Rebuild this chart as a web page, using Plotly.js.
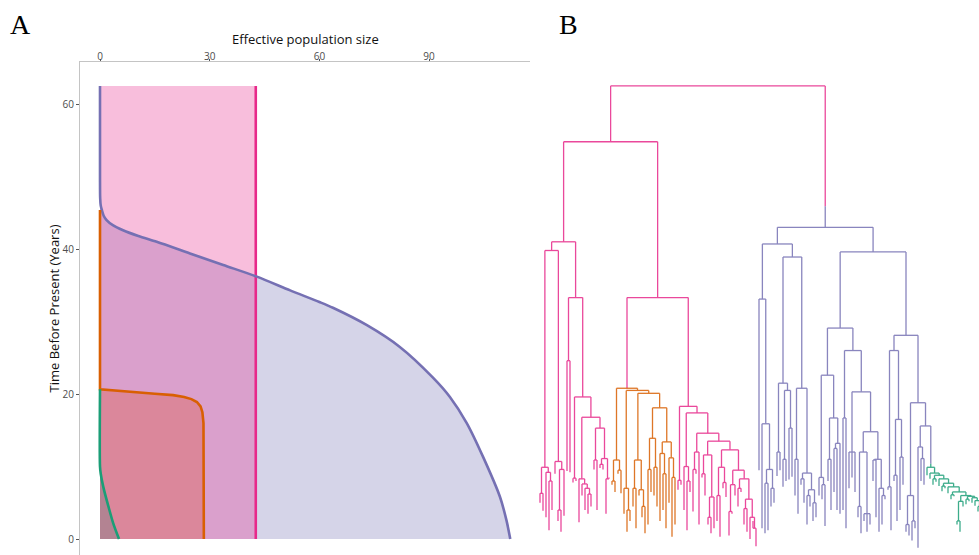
<!DOCTYPE html>
<html>
<head>
<meta charset="utf-8">
<script src="https://cdn.plot.ly/plotly-3.0.1.min.js"></script>
<style>html,body{margin:0;padding:0;background:#fff;}#chart{width:979px;height:555px;}</style>
</head>
<body>
<div id="chart"></div>
<script>
// ---------------- Panel A data: effective population size through time ----------------
const pinkTime   = [0, 62.5];
const pinkNe     = [42.6, 42.6];

const purpleTime = [0, 2.5, 5.8, 11.3, 16.0, 19.6, 22.3, 26.5, 29.5, 31.9, 32.7, 34.3, 36.2, 37.8, 39.4, 41.0, 41.8, 42.6, 43.3, 44.0, 44.6, 45.4, 46.0, 47.0, 50.0, 62.5];
const purpleNe   = [112.2, 111.2, 109.4, 104.8, 100.3, 95.7, 91.0, 82.0, 73.0, 63.7, 60.0, 52.0, 42.9, 33.7, 24.6, 15.5, 10.5, 6.3, 3.5, 1.8, 1.0, 0.5, 0.2, 0.05, 0, 0];

const orangeTime = [0, 10, 16.0, 17.5, 18.3, 18.9, 19.3, 19.6, 19.85, 20.05, 20.25, 20.45, 20.65, 45.4];
const orangeNe   = [28.4, 28.4, 28.3, 28.0, 27.5, 26.5, 25.0, 23.0, 20.0, 15.0, 10.0, 5.0, 0, 0];

const greenTime  = [0, 2.2, 4.5, 7.2, 9.0, 10.0, 20.65];
const greenNe    = [5.2, 3.6, 2.3, 0.9, 0.2, 0, 0];

const xTicks = [0, 30, 60, 90];
const yTicks = [0, 20, 40, 60];

// ---------------- Panel B data: time tree (leaf = tip time, "(...):t" = node time, "#X" = population) ----------------
const popNames   = ['K', 'P', 'O', 'G'];
const popColors  = ['#e7298a', '#7570b3', '#d95f02', '#1b9e77'];
const popSwitch  = [62.5, 45.9, 20.8, 10.4];   // time where a lineage takes the population colour

const L1a1   = "((5.0,3.9):6.3,(3.0,(1.2,4.0):8.0):9.2):9.9";
const L1a2   = "(9.0,((2.5,1.0):4.0,3.2):9.6):10.7";
const L1b1   = "(9.4,9.2):24.6";
const L1b2a  = "(7.8,8.0):8.4";
const L1b2b1 = "(2.3,(6.0,(4.0,(3.5,4.5):6.2):7.0):7.6):8.3";
const L1b2b2 = "((9.6,4.0):10.9,((9.8,9.6):10.3,(3.5,8.5):8.3):11.1):15.3";
const L1 = "((" + L1a1 + "," + L1a2 + "):39.8,(" + L1b1 + ",(" + L1b2a + ",(" + L1b2b1 + "," + L1b2b2 + "):16.8):19.6):33.3):41.0";

const Oa  = "((7.5,6.5):8.0,(9.0,6.3):9.5):10.9";
const Ob  = "(3.5,(1.0,2.5):4.0):7.0";
const Oc  = "((4.5,1.5):7.0,(6.0,(3.0,0.8):4.5):6.8):10.9";
const Od1 = "((2.0,6.5):9.6,(6.0,4.5):9.9):13.9";
const Od2 = "((2.5,(4.0,1.5):9.0):11.8,(5.0,(0.3,2.0):8.5):11.2):13.4";
const Orange = "(" + Oa + ",(" + Ob + ",(" + Oc + ",(" + Od1 + "," + Od2 + "):18.1):20.1):20.5):20.8#O";

const R1b1   = "(6.8,7.5):8.1";
const R1b2a  = "(4.0,(1.2,6.5):8.0):10.0";
const R1b2b1 = "((3.8,9.0):9.6,2.0):12.0";
const C1     = "((8.5,6.0):9.0,((2.0,0.8):3.0,1.5):5.8):11.6";
const D1     = "((2.5,0.3):6.0,(7.0,5.8):7.8):9.9";
const D2     = "(((0.5,3.5):3.8,6.0):7.5,((4.5,6.5):7.0,((2.0,1.0):4.2,(0.0,(2.5,-1.0):1.5):3.0):5.5):8.3):9.5";
const R1 = "(" + Orange + ",(" + R1b1 + ",(" + R1b2a + ",(" + R1b2b1 + ",(" + C1 + ",(" + D1 + "," + D2 + "):12.3):13.5):14.6):17.4):18.3):33.3";

const PA1b  = "(1.5,((0.8,1.2):7.7,(4.5,5.0):7.0):9.6):15.9";
const PA2a  = "((8.7,9.5):12.0,((7.2,8.0):11.0,(8.2,8.6):15.3):20.5):21.5";
const PA2b  = "((6.0,3.5):11.0,((7.5,5.0):8.3,((2.0,4.5):6.0,(2.5,3.0):5.0):6.8):9.1):20.8";
const PA    = "((9.5," + PA1b + "):33.1,(" + PA2a + "," + PA2b + "):38.9):40.7";
const PB1a  = "((6.0,(5.5,1.8):7.5):8.5,((8.0,4.0):11.0,((6.5,4.0):12.5,3.5):13.2):16.7):22.6";
const PB1b  = "((4.0,1.5):16.7,((7.0,8.5,6.5):12.0,(((3.0,0.8):4.5,(2.5,1.0,2.0):3.5):12.0,((8.0,3.0):10.9,(1.0,(2.0,5.5):6.0):7.0):11.0):14.8):20.3):26.0";
const PB2a  = "((6.8,1.2):7.2,((8.0,2.5):8.8,(4.0,7.5):11.3):16.5):26.0";
const PB2b1 = "((1.0,0.5):2.0,(-0.2,1.5):2.5):6.0";
const PB2b2a = "(-1.2,(8.0,7.5):11.1):12.7";
const Green = "(8.8,(8.3,((7.5,7.9):8.3,(7.3,((6.6,7.0):7.3,(6.3,((5.5,5.9):6.1,(((2.0,1.0):2.5,4.5):5.2,((4.8,5.2):5.5,(5.0,(4.6,(3.8,4.2):4.5):5.3):5.7):5.9):6.0):6.5):7.2):7.7):8.3):8.8):9.1):9.9#G";
const PB    = "((" + PB1a + "," + PB1b + "):29.1,(" + PB2a + ",(" + PB2b1 + ",(" + PB2b2a + "," + Green + "):15.6):18.8):28.1):39.6";
const Purple = "(" + PA + "," + PB + "):43.0#P";

const treeString = "((" + L1 + "," + R1 + "):54.8," + Purple + "):62.5#K";

// ---------------- tree parsing & layout ----------------
function parseTree(s) {
  let i = 0;
  function num() { const j = i; while (i < s.length && /[-0-9.]/.test(s[i])) i++; return parseFloat(s.slice(j, i)); }
  function node() {
    if (s[i] === '(') {
      i++;
      const ch = [];
      while (true) {
        ch.push(node());
        if (s[i] === ',') { i++; continue; }
        if (s[i] === ')') { i++; break; }
      }
      i++; // ':'
      const t = num();
      let tag = null;
      if (s[i] === '#') { i++; tag = s[i]; i++; }
      return { ch, t, tag };
    }
    return { ch: [], t: num(), tag: null };
  }
  return node();
}
const root = parseTree(treeString);
let leafCount = 0;
function layout(n, parent) {
  n.pop = n.tag || (parent ? parent.pop : 'K');
  if (n.ch.length === 0) { n.x = leafCount++; return; }
  n.ch.forEach(c => layout(c, n));
  n.x = (n.ch[0].x + n.ch[n.ch.length - 1].x) / 2;
}
layout(root, null);

const segs = {};
popNames.forEach(p => segs[p] = { x: [], y: [] });
function addSeg(p, x0, y0, x1, y1) { segs[p].x.push(x0, x1, null); segs[p].y.push(y0, y1, null); }
function draw(n, parent) {
  if (parent) {
    if (n.pop !== parent.pop) {
      const sw = popSwitch[popNames.indexOf(n.pop)];
      addSeg(parent.pop, n.x, parent.t, n.x, sw);
      addSeg(n.pop, n.x, sw, n.x, n.t);
    } else {
      addSeg(n.pop, n.x, parent.t, n.x, n.t);
    }
  }
  if (n.ch.length) {
    addSeg(n.pop, n.ch[0].x, n.t, n.ch[n.ch.length - 1].x, n.t);
    n.ch.forEach(c => draw(c, n));
  }
}
draw(root, null);

// ---------------- traces ----------------
const traces = [];
function fillTrace(t, ne, fill, shape) {
  return { type: 'scatter', mode: 'lines', x: ne, y: t, xaxis: 'x', yaxis: 'y',
    line: { width: 0, shape: shape, smoothing: 0.8 }, fill: 'tozerox', fillcolor: fill, hoverinfo: 'skip', showlegend: false };
}
function lineTrace(t, ne, color, shape) {
  return { type: 'scatter', mode: 'lines', x: ne, y: t, xaxis: 'x', yaxis: 'y',
    line: { color: color, width: 2.6, shape: shape, smoothing: 0.8 }, hoverinfo: 'skip', showlegend: false };
}
// fills (purple, orange, green under pink)
traces.push(fillTrace(purpleTime, purpleNe, 'rgba(117,112,179,0.3)', 'spline'));
traces.push(fillTrace(orangeTime, orangeNe, 'rgba(217,95,2,0.3)', 'linear'));
traces.push(fillTrace(greenTime, greenNe, 'rgba(27,158,119,0.3)', 'spline'));
traces.push(fillTrace(pinkTime, pinkNe, 'rgba(231,41,138,0.3)', 'linear'));
// lines
traces.push(lineTrace(pinkTime, pinkNe, popColors[0], 'linear'));
traces.push(lineTrace(purpleTime, purpleNe, popColors[1], 'spline'));
traces.push(lineTrace(orangeTime, orangeNe, popColors[2], 'linear'));
traces.push(lineTrace(greenTime, greenNe, popColors[3], 'spline'));

popNames.forEach((p, k) => {
  traces.push({ type: 'scatter', mode: 'lines', x: segs[p].x, y: segs[p].y, xaxis: 'x2', yaxis: 'y2',
    line: { color: popColors[k], width: 1.3 }, opacity: 0.85, hoverinfo: 'skip', showlegend: false, connectgaps: false });
});

const W = 979, H = 555;
const s = 3.0;            // pixels per leaf
const leaf0 = 540;        // pixel of first leaf
const bx0 = 535;
const layout_ = {
  width: W, height: H,
  margin: { l: 0, r: 0, t: 0, b: 0 },
  paper_bgcolor: '#ffffff', plot_bgcolor: 'rgba(0,0,0,0)',
  font: { family: 'Open Sans, sans-serif', color: '#000' },
  xaxis: {
    domain: [80 / W, 530 / W], range: [-5.47, 117.6], side: 'top', anchor: 'y',
    tickvals: xTicks, ticktext: xTicks.map(String), ticks: 'outside', ticklen: 2, tickcolor: '#555',
    ticklabelstandoff: -5,
    tickfont: { size: 10, color: '#4d4d4d' },
    showline: true, linecolor: '#c4c4c4', linewidth: 1, showgrid: false, zeroline: false
  },
  yaxis: {
    domain: [0, 1 - 62 / H], range: [-2.2, 65.8], anchor: 'x',
    tickvals: yTicks, ticktext: yTicks.map(String), ticks: 'outside', ticklen: 3, tickcolor: '#555',
    tickfont: { size: 10, color: '#4d4d4d' },
    showline: true, linecolor: '#c4c4c4', linewidth: 1, showgrid: false, zeroline: false,
    title: { text: 'Time Before Present (Years)', font: { size: 13, color: '#111' }, standoff: 0 }
  },
  xaxis2: { domain: [bx0 / W, 1], range: [(bx0 - leaf0) / s, (W - leaf0) / s], anchor: 'y2', visible: false },
  yaxis2: { domain: [0, 1 - 62 / H], range: [-2.2, 65.8], anchor: 'x2', visible: false },
  annotations: [
    { text: 'Effective population size', xref: 'paper', yref: 'paper', x: 305 / W, y: 1 - 39 / H,
      xanchor: 'center', yanchor: 'middle', showarrow: false, font: { size: 13, color: '#111' } },
    { text: 'A', xref: 'paper', yref: 'paper', x: 8 / W, y: 1 - 7 / H, xanchor: 'left', yanchor: 'top', showarrow: false,
      font: { family: 'Liberation Serif, serif', size: 28, color: '#000' } },
    { text: 'B', xref: 'paper', yref: 'paper', x: 557 / W, y: 1 - 7 / H, xanchor: 'left', yanchor: 'top', showarrow: false,
      font: { family: 'Liberation Serif, serif', size: 28, color: '#000' } }
  ]
};
Plotly.newPlot('chart', traces, layout_, { staticPlot: true, displayModeBar: false });
</script>
</body>
</html>
